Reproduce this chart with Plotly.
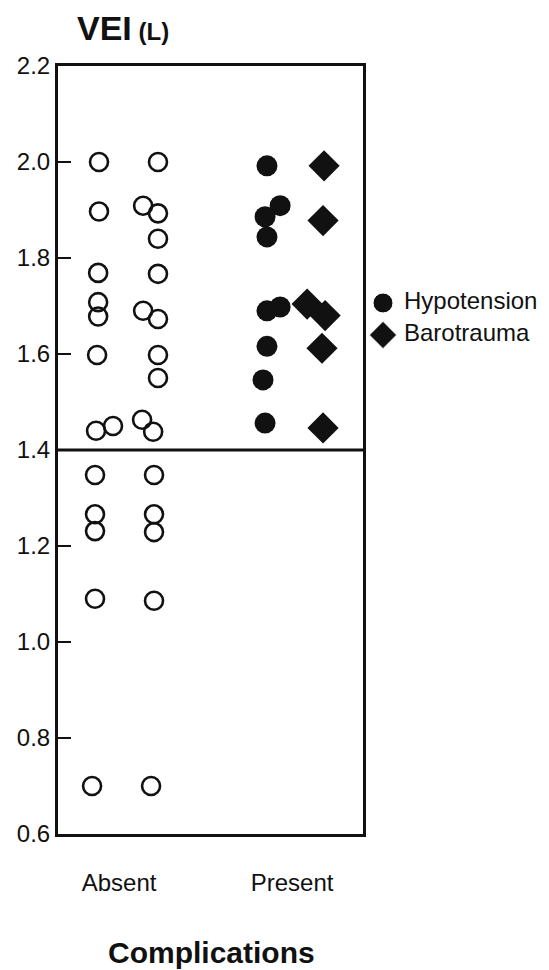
import plotly.graph_objects as go

# ---- data ----
categories = ["Absent", "Present"]

# VEI (L) values for patients without complications, with horizontal jitter offsets
absent_vei = [2.00, 1.897, 1.769, 1.708, 1.678, 1.598, 1.440, 1.450,
              1.348, 1.266, 1.231, 1.090, 0.700,
              2.00, 1.909, 1.893, 1.840, 1.767, 1.690, 1.673, 1.598, 1.550,
              1.463, 1.438, 1.348, 1.266, 1.229, 1.086, 0.700]
absent_jitter = [-0.116, -0.116, -0.121, -0.121, -0.121, -0.127, -0.133, -0.035,
                 -0.139, -0.139, -0.139, -0.139, -0.156,
                 0.225, 0.139, 0.225, 0.225, 0.225, 0.139, 0.225, 0.225, 0.225,
                 0.133, 0.197, 0.202, 0.202, 0.202, 0.202, 0.185]

hypotension_vei = [1.992, 1.909, 1.886, 1.844, 1.690, 1.698, 1.616, 1.546, 1.456]
hypotension_jitter = [-0.145, -0.069, -0.156, -0.145, -0.145, -0.069, -0.145, -0.168, -0.156]

barotrauma_vei = [1.992, 1.878, 1.704, 1.680, 1.612, 1.446]
barotrauma_jitter = [0.185, 0.179, 0.087, 0.191, 0.173, 0.179]

y_ticks = [0.6, 0.8, 1.0, 1.2, 1.4, 1.6, 1.8, 2.0, 2.2]
y_tick_labels = ["0.6", "0.8", "1.0", "1.2", "1.4", "1.6", "1.8", "2.0", "2.2"]
threshold = 1.4

legend_names = ["Hypotension", "Barotrauma"]
legend_rows = [0, 1]

FONT = "Liberation Sans, Arial, Helvetica, sans-serif"
INK = "#111111"

absent_x = [categories.index("Absent") + j for j in absent_jitter]
hypo_x = [categories.index("Present") + j for j in hypotension_jitter]
baro_x = [categories.index("Present") + j for j in barotrauma_jitter]

fig = go.Figure()
fig.add_trace(go.Scatter(
    x=absent_x, y=absent_vei, mode="markers", showlegend=False,
    marker=dict(symbol="circle-open", size=18, color=INK, opacity=1,
                line=dict(width=2.6, color=INK)),
))
fig.add_trace(go.Scatter(
    x=hypo_x, y=hypotension_vei, mode="markers", name="Hypotension", showlegend=False,
    marker=dict(symbol="circle", size=21, color=INK, opacity=1),
))
fig.add_trace(go.Scatter(
    x=baro_x, y=barotrauma_vei, mode="markers", name="Barotrauma", showlegend=False,
    marker=dict(symbol="diamond", size=24, color=INK, opacity=1),
))

# custom key drawn on its own small axes to the right of the plot
fig.add_trace(go.Scatter(
    x=[0, 0], y=legend_rows, mode="markers", xaxis="x2", yaxis="y2",
    showlegend=False, hoverinfo="skip",
    marker=dict(symbol=["circle", "diamond"], size=[20, 21], color=INK, opacity=1),
))
fig.add_trace(go.Scatter(
    x=[21, 21], y=legend_rows, mode="text", xaxis="x2", yaxis="y2",
    text=legend_names, textposition="middle right", showlegend=False, hoverinfo="skip",
    textfont=dict(size=24, family=FONT, color=INK),
))

fig.add_hline(y=threshold, line=dict(color=INK, width=3))

MAIN_W = 305 / 481.0

fig.update_layout(
    width=549, height=970,
    margin=dict(l=58, r=10, t=66, b=136),
    paper_bgcolor="white", plot_bgcolor="white",
    font=dict(family=FONT, color=INK, size=24),
    showlegend=False,
    xaxis=dict(
        domain=[0, MAIN_W],
        range=[-0.353, 1.410], showgrid=False, zeroline=False,
        showline=True, mirror=True, linecolor=INK, linewidth=3,
        tickvals=[0, 1], ticktext=categories, ticks="",
        tickfont=dict(size=24, family=FONT, color=INK),
        ticklabelstandoff=25,
    ),
    yaxis=dict(
        range=[0.6, 2.2], showgrid=False, zeroline=False,
        showline=True, mirror=True, linecolor=INK, linewidth=3,
        tickvals=y_ticks, ticktext=y_tick_labels,
        ticks="inside", ticklen=13, tickwidth=2, tickcolor=INK,
        tickfont=dict(size=24, family=FONT, color=INK),
    ),
    xaxis2=dict(domain=[MAIN_W, 1], range=[-20, 156], visible=False, fixedrange=True),
    yaxis2=dict(domain=[0, 1], anchor="x2", range=[16.594, -7.406], visible=False,
                fixedrange=True),
    annotations=[
        dict(text="<b>VEI</b><b><span style='font-size:24px'> (L)</span></b>",
             xref="paper", yref="paper", x=0.035, y=1.049,
             xanchor="left", yanchor="middle", showarrow=False,
             font=dict(size=34, family=FONT, color=INK)),
        dict(text="<b>Complications</b>",
             xref="paper", yref="paper", x=0.320, y=-0.154,
             xanchor="center", yanchor="middle", showarrow=False,
             font=dict(size=30, family=FONT, color=INK)),
    ],
)

fig.write_html("out.html")
